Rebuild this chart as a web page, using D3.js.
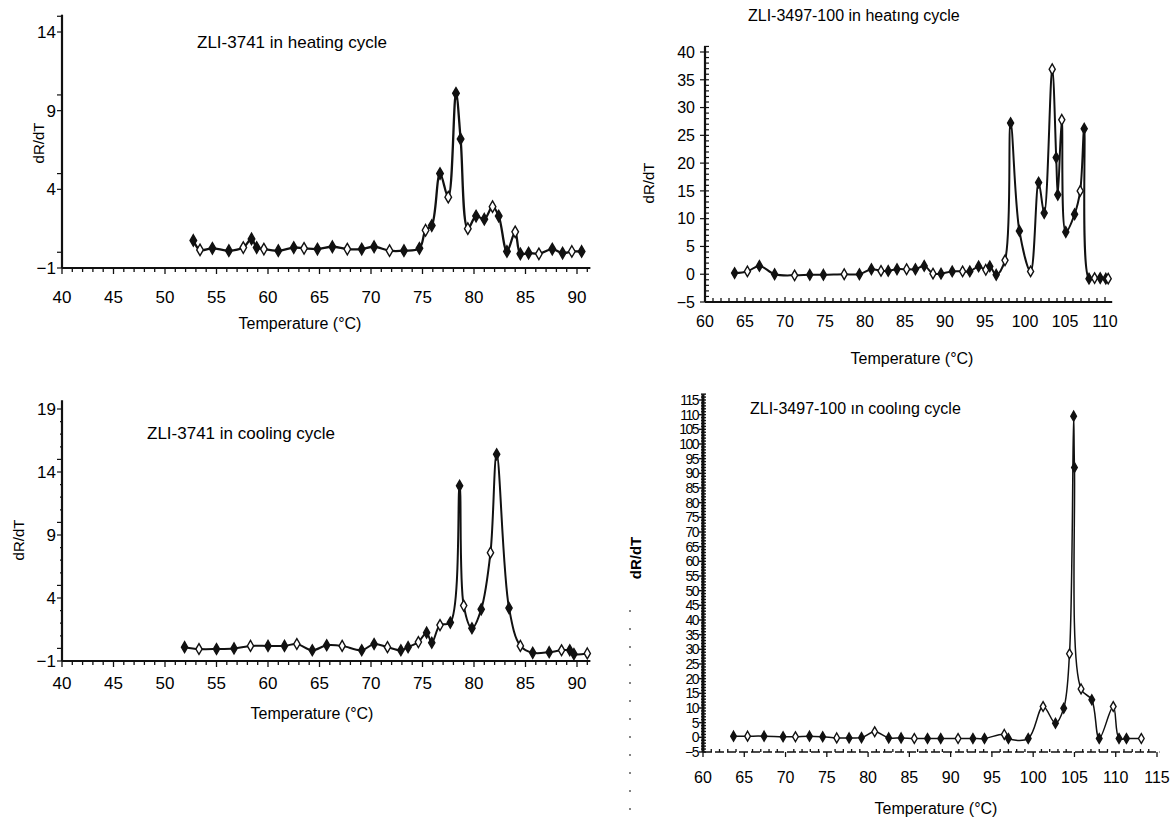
<!DOCTYPE html>
<html>
<head>
<meta charset="utf-8">
<script src="https://cdn.jsdelivr.net/npm/d3@7"></script>
<style>
  html, body { margin: 0; padding: 0; background: #fff; }
  svg text { font-family: "Liberation Sans", Arial, Helvetica, sans-serif; fill: #000; }
</style>
</head>
<body>
<svg id="chart" width="1171" height="821"></svg>
<script>
// ---------- DATA ----------
// Panel A: ZLI-3741 heating
const heat3741T = [52.75,53.4,54.6,56.2,57.6,58.4,58.9,59.6,61.0,62.5,63.5,64.8,66.25,67.7,69.1,70.3,71.8,73.2,74.7,75.3,75.9,76.7,77.5,78.25,78.7,79.4,80.2,81.0,81.8,82.4,83.2,84.0,84.5,85.3,86.3,87.6,88.6,89.5,90.45];
const heat3741V = [0.75,0.15,0.25,0.1,0.3,0.85,0.3,0.2,0.1,0.3,0.25,0.2,0.35,0.2,0.2,0.35,0.1,0.1,0.25,1.4,1.7,5.0,3.5,10.1,7.2,1.5,2.3,2.1,2.9,2.3,0.05,1.3,-0.1,-0.05,-0.1,0.2,-0.05,0.05,0.05];
// Panel B: ZLI-3741 cooling
const cool3741T = [51.9,53.3,55.0,56.7,58.3,60.0,61.6,62.8,64.3,65.7,67.2,69.1,70.3,71.6,72.9,73.6,74.6,75.4,75.9,76.7,77.7,78.6,79.0,79.8,80.7,81.6,82.2,83.4,84.5,85.7,87.3,88.5,89.3,89.7,91.0];
const cool3741V = [0.1,-0.05,-0.05,0.0,0.2,0.2,0.2,0.35,-0.15,0.25,0.2,-0.15,0.35,0.1,-0.15,0.1,0.5,1.25,0.45,1.85,2.05,12.9,3.4,1.6,3.1,7.6,15.4,3.2,0.2,-0.35,-0.3,-0.15,-0.15,-0.45,-0.4];
// Panel C: ZLI-3497-100 heating
const heat3497T = [63.7,65.3,66.8,68.7,71.2,73.1,74.8,77.4,79.3,80.8,82.0,82.9,84.0,85.2,86.3,87.4,88.5,89.5,90.9,92.2,93.1,94.2,95.1,95.6,96.4,97.5,98.2,99.3,100.7,101.7,102.4,103.4,103.9,104.1,104.6,105.1,106.2,106.9,107.4,108.0,108.7,109.4,110.1,110.4];
const heat3497V = [0.2,0.5,1.5,0.0,-0.2,-0.1,-0.1,0.0,0.0,0.9,0.6,0.6,0.9,0.9,0.9,1.5,0.1,0.1,0.5,0.5,0.5,1.4,0.8,1.4,-0.1,2.5,27.2,7.8,0.5,16.5,11.0,36.9,21.0,14.3,27.8,7.6,10.8,15.0,26.2,-0.8,-0.7,-0.7,-0.8,-0.8];
// Panel D: ZLI-3497-100 cooling
const cool3497T = [63.7,65.4,67.4,69.7,71.2,72.9,74.5,76.2,77.7,79.2,80.8,82.5,84.0,85.6,87.2,88.8,90.9,92.7,94.1,96.5,97.0,99.4,101.2,102.7,103.7,104.4,104.9,105.0,105.8,107.1,108.0,109.7,110.4,111.3,113.1];
const cool3497V = [0.4,0.4,0.4,0.2,0.2,0.4,0.2,-0.2,-0.2,-0.1,1.9,-0.2,-0.2,-0.4,-0.4,-0.4,-0.4,-0.4,-0.4,1.0,-0.4,-0.4,10.5,4.8,9.9,28.5,109.5,92.0,16.5,12.8,-0.4,10.5,-0.4,-0.4,-0.4];

// Tick labels
const xTicksLeft = [40,45,50,55,60,65,70,75,80,85,90];
const yTicksA = [-1,4,9,14];
const yTicksB = [-1,4,9,14,19];
const xTicksC = [60,65,70,75,80,85,90,95,100,105,110];
const yTicksC = [-5,0,5,10,15,20,25,30,35,40];
const xTicksD = [60,65,70,75,80,85,90,95,100,105,110,115];
const yTicksD = [-5,0,5,10,15,20,25,30,35,40,45,50,55,60,65,70,75,80,85,90,95,100,105,110,115];

const titles = ["ZLI-3741 in heating cycle","ZLI-3741 in cooling cycle","ZLI-3497-100 in heatıng cycle","ZLI-3497-100 ın coolıng cycle"];

// ---------- DRAW ----------
const svg = d3.select("#chart");

function panel(cfg) {
  const g = svg.append("g");
  const x = d3.scaleLinear().domain(cfg.xDom).range(cfg.xRange);
  const y = d3.scaleLinear().domain(cfg.yDom).range(cfg.yRange);
  const x0 = x(cfg.xDom[0]), y0 = y(cfg.yDom[0]);

  // axis lines
  g.append("line").attr("x1", x0).attr("x2", x(cfg.xEnd)).attr("y1", y0).attr("y2", y0)
    .attr("stroke", "#111").attr("stroke-width", cfg.axisW)
    .attr("stroke-dasharray", cfg.xDash || null);
  g.append("line").attr("x1", x0).attr("x2", x0).attr("y1", y0).attr("y2", y(cfg.yTop))
    .attr("stroke", "#111").attr("stroke-width", cfg.yAxisW || cfg.axisW);

  // x minor ticks
  const xMinor = d3.range(Math.ceil(cfg.xDom[0]), Math.floor(cfg.xEnd) + 1, 1);
  g.selectAll(null).data(xMinor).enter().append("line")
    .attr("x1", d => x(d)).attr("x2", d => x(d))
    .attr("y1", y0).attr("y2", d => y0 + (d % 5 === 0 ? cfg.xMajLen : cfg.xMinLen))
    .attr("stroke", "#111").attr("stroke-width", 1.3);
  // y minor ticks
  const yMinor = d3.range(cfg.yDom[0], Math.floor(cfg.yTop) + 1, 1);
  g.selectAll(null).data(yMinor).enter().append("line")
    .attr("x1", d => x0 + (d % 5 === 0 || cfg.yTicks.includes(d) ? cfg.yMajOut : cfg.yMinOut))
    .attr("x2", d => x0 + cfg.yIn)
    .attr("y1", d => y(d)).attr("y2", d => y(d))
    .attr("stroke", "#111").attr("stroke-width", cfg.yTickW || 1.2);

  // tick labels
  g.selectAll(null).data(cfg.xTicks).enter().append("text")
    .attr("x", d => x(d)).attr("y", cfg.xLabY).attr("text-anchor", "middle")
    .style("font-size", cfg.tickFs + "px").text(d => d);
  g.selectAll(null).data(cfg.yTicks).enter().append("text")
    .attr("x", cfg.yLabX).attr("y", d => y(d)).attr("dy", "0.36em").attr("text-anchor", "end")
    .style("font-size", (cfg.yTickFs || cfg.tickFs) + "px")
    .style("letter-spacing", cfg.yLs || "0px")
    .text(d => d < 0 ? "\u2212" + Math.abs(d) : d);

  // titles
  g.append("text").attr("x", cfg.titleX).attr("y", cfg.titleY)
    .style("font-size", cfg.titleFs + "px").text(cfg.title);
  g.append("text").attr("x", cfg.xtX).attr("y", cfg.xtY).attr("text-anchor", "middle")
    .style("font-size", "16px").text("Temperature (\u00B0C)");
  g.append("text").attr("transform", `translate(${cfg.ytX},${cfg.ytY}) rotate(-90)`)
    .attr("text-anchor", "middle").style("font-size", "15px")
    .style("font-weight", cfg.ytBold ? "bold" : "normal").text("dR/dT");

  // data line
  const pts = cfg.T.map((t, i) => [t, cfg.V[i]]);
  g.append("path").datum(pts)
    .attr("fill", "none").attr("stroke", "#111").attr("stroke-width", cfg.lineW)
    .attr("stroke-linejoin", "round")
    .attr("d", d3.line().x(d => x(d[0])).y(d => y(d[1])).curve(d3.curveCatmullRom.alpha(0.5)));
  g.selectAll(null).data(pts).enter().append("path")
    .attr("transform", d => `translate(${x(d[0])},${y(d[1])})`)
    .attr("d", d3.symbol().type(d3.symbolDiamond).size(cfg.mk))
    .attr("fill", (d, i) => (i % 3 === 1 ? "#fff" : "#111"))
    .attr("stroke", "#111").attr("stroke-width", 1.4);
}

panel({
  T: heat3741T, V: heat3741V, title: titles[0],
  xDom: [40, 90], xRange: [62, 577], xEnd: 91.3,
  yDom: [-1, 14], yRange: [268, 32], yTop: 15.1,
  axisW: 2.2, xMinLen: 4, xMajLen: 6, yMajOut: -5, yMinOut: 0, yIn: 0,
  xTicks: xTicksLeft, yTicks: yTicksA, xLabY: 303, yLabX: 56, tickFs: 17,
  titleX: 197, titleY: 48, titleFs: 17,
  xtX: 300, xtY: 329, ytX: 44, ytY: 143,
  lineW: 2.3, mk: 38
});

panel({
  T: cool3741T, V: cool3741V, title: titles[1],
  xDom: [40, 90], xRange: [62, 577], xEnd: 91.3,
  yDom: [-1, 19], yRange: [661, 409], yTop: 19.7,
  axisW: 2.2, xMinLen: 4, xMajLen: 6, yMajOut: -5, yMinOut: -2, yIn: 0,
  xTicks: xTicksLeft, yTicks: yTicksB, xLabY: 689, yLabX: 56, tickFs: 17,
  titleX: 147, titleY: 439, titleFs: 17,
  xtX: 312, xtY: 719, ytX: 24, ytY: 540,
  lineW: 2.0, mk: 34
});

panel({
  T: heat3497T, V: heat3497V, title: titles[2],
  xDom: [60, 110], xRange: [705, 1105], xEnd: 110.9,
  yDom: [-5, 40], yRange: [302, 52], yTop: 41,
  axisW: 1.8, yAxisW: 2.2, xMinLen: -4, xMajLen: -5, yMajOut: -5, yMinOut: -1, yIn: 4,
  xTicks: xTicksC, yTicks: yTicksC, xLabY: 327, yLabX: 695, tickFs: 16,
  titleX: 748, titleY: 21, titleFs: 16,
  xtX: 912, xtY: 364, ytX: 654, ytY: 183,
  lineW: 2.0, mk: 32
});

panel({
  T: cool3497T, V: cool3497V, title: titles[3],
  xDom: [60, 115], xRange: [703, 1157], xEnd: 115.3,
  yDom: [-5, 115], yRange: [752, 400], yTop: 117,
  axisW: 1.4, yAxisW: 3, xMinLen: -3, xMajLen: 5, yMajOut: -4, yMinOut: -2, yIn: 3, yTickW: 1.4,
  xDash: "9,3",
  xTicks: xTicksD, yTicks: yTicksD, xLabY: 783, yLabX: 698, tickFs: 16, yTickFs: 14, yLs: "-1.5px",
  titleX: 750, titleY: 414, titleFs: 16,
  xtX: 936, xtY: 814, ytX: 641, ytY: 558, ytBold: true,
  lineW: 1.5, mk: 28
});

// faint scan dashes at the left of the lower-right panel
svg.append("line").attr("x1", 630).attr("x2", 630).attr("y1", 610).attr("y2", 815)
  .attr("stroke", "#333").attr("stroke-width", 1.2).attr("stroke-dasharray", "2,16");
</script>
</body>
</html>
